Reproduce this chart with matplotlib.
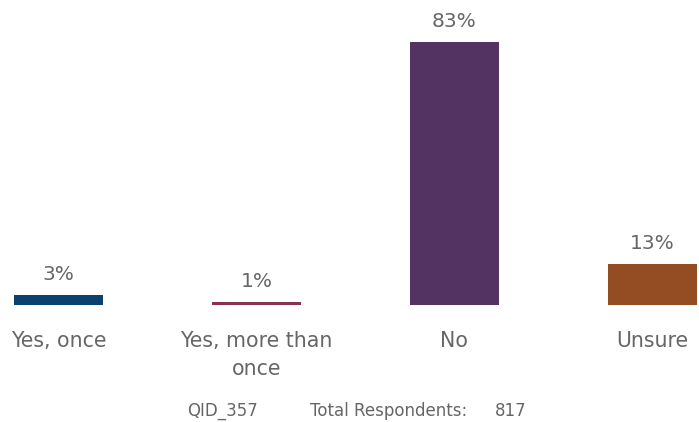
import matplotlib
matplotlib.use("Agg")
import matplotlib.pyplot as plt

categories = ["Yes, once", "Yes, more than\nonce", "No", "Unsure"]
values = [3, 1, 83, 13]
colors = ["#0C416E", "#8A3050", "#523362", "#944C22"]
footer_qid = "QID_357"
footer_total_label = "Total Respondents:"
footer_total = "817"

W, H = 699, 422
fig = plt.figure(figsize=(W / 100, H / 100), dpi=100)
ax = fig.add_axes([0, 1 - 305 / H, 1, 316.9 / H])
ax.set_xlim(-0.295, 3.235)
ax.set_ylim(0, 100)
ax.axis("off")

text_color = "#666666"
font = "DejaVu Sans"
x = list(range(len(categories)))
ax.bar(x, values, width=0.449, color=colors)
for xi, v in zip(x, values):
    ax.annotate(f"{v}%", (xi, v), xytext=(0, 8), textcoords="offset points",
                ha="center", va="bottom", fontsize=14.5, color=text_color, family=font)
for xi, c in zip(x, categories):
    ax.annotate(c, (xi, 0), xytext=(0, -19), textcoords="offset points",
                ha="center", va="top", fontsize=14.8, color=text_color, family=font,
                linespacing=1.5)

fig.text(187 / W, 1 - 411 / H, footer_qid, ha="left", va="center", fontsize=12,
         color=text_color, family=font)
fig.text(310 / W, 1 - 411 / H, footer_total_label, ha="left", va="center", fontsize=12,
         color=text_color, family=font)
fig.text(495 / W, 1 - 411 / H, footer_total, ha="left", va="center", fontsize=12,
         color=text_color, family=font)

fig.savefig("out.png", dpi=100)
